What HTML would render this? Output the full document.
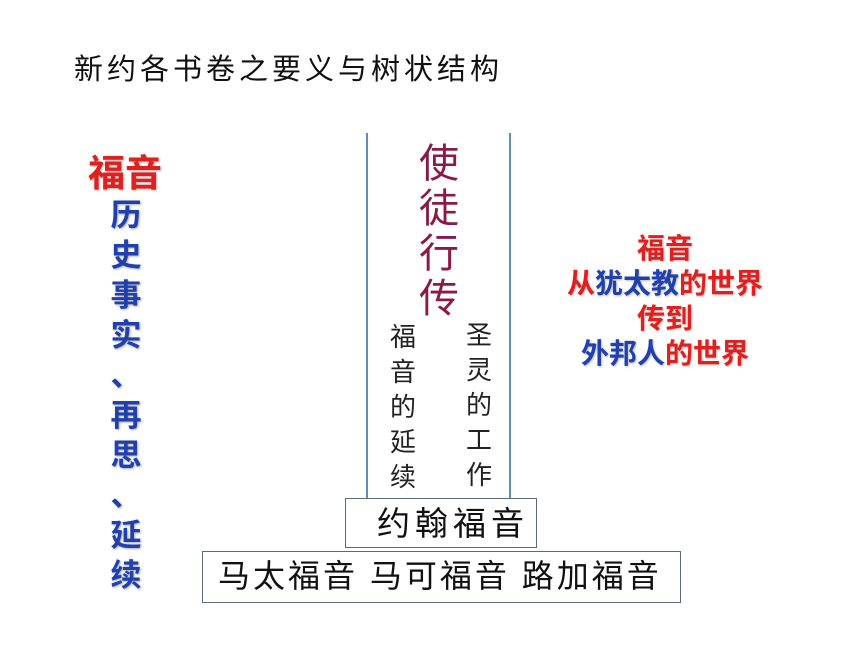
<!DOCTYPE html>
<html><head><meta charset="utf-8"><style>
body{margin:0;width:865px;height:649px;background:#fff;position:relative;overflow:hidden;font-family:"Liberation Sans","Noto Sans CJK SC",sans-serif}
.a{position:absolute;white-space:nowrap;line-height:1}
.col{position:absolute;line-height:1;text-align:center}
</style></head><body>
<div class="a" style="left:74px;top:56px;font-size:29px;letter-spacing:4px;color:#111">新约各书卷之要义与树状结构</div>
<div class="a" style="left:88px;top:155px;font-size:37px;font-weight:bold;color:#e0201e;text-shadow:1px 1px 2px #aaa">福音</div>
<div class="col" style="left:108px;top:200px;width:36px;font-size:31px;font-weight:bold;color:#2040b0;text-shadow:1px 1px 2px #aaa">
<div style="height:40px">历</div><div style="height:40px">史</div><div style="height:40px">事</div><div style="height:40px">实</div><div style="height:40px">、</div><div style="height:40px">再</div><div style="height:40px">思</div><div style="height:40px">、</div><div style="height:40px">延</div><div style="height:40px">续</div></div>
<div style="position:absolute;left:366px;top:133px;width:2px;height:365px;background:#5b8fc4"></div>
<div style="position:absolute;left:509px;top:133px;width:2px;height:365px;background:#5b8fc4"></div>
<div class="col" style="left:418px;top:144px;width:42px;font-size:40px;color:#8b1a4a">
<div style="height:45px">使</div><div style="height:45px">徒</div><div style="height:45px">行</div><div style="height:45px">传</div></div>
<div class="col" style="left:389px;top:324px;width:28px;font-size:26px;color:#222">
<div style="height:35px">福</div><div style="height:35px">音</div><div style="height:35px">的</div><div style="height:35px">延</div><div style="height:35px">续</div></div>
<div class="col" style="left:465px;top:322px;width:28px;font-size:26px;color:#222">
<div style="height:35px">圣</div><div style="height:35px">灵</div><div style="height:35px">的</div><div style="height:35px">工</div><div style="height:35px">作</div></div>
<div style="position:absolute;left:345px;top:498px;width:192px;height:50px;border:1px solid #5a6a80;box-sizing:border-box"></div>
<div class="a" style="left:377px;top:507px;font-size:33px;letter-spacing:5px;color:#111">约翰福音</div>
<div style="position:absolute;left:202px;top:551px;width:479px;height:52px;border:1px solid #5a6a80;box-sizing:border-box"></div>
<div class="a" style="left:218px;top:560px;font-size:32px;letter-spacing:3px;color:#111">马太福音&nbsp;马可福音&nbsp;路加福音</div>
<div class="col" style="left:555px;top:235px;width:220px;font-size:28px;font-weight:bold;color:#e0201e;text-shadow:1px 1px 2px #bbb">
<div style="height:35px">福音</div>
<div style="height:35px">从<span style="color:#2040b0">犹太教</span>的世界</div>
<div style="height:35px">传到</div>
<div style="height:35px"><span style="color:#2040b0">外邦人</span>的世界</div></div>
</body></html>
